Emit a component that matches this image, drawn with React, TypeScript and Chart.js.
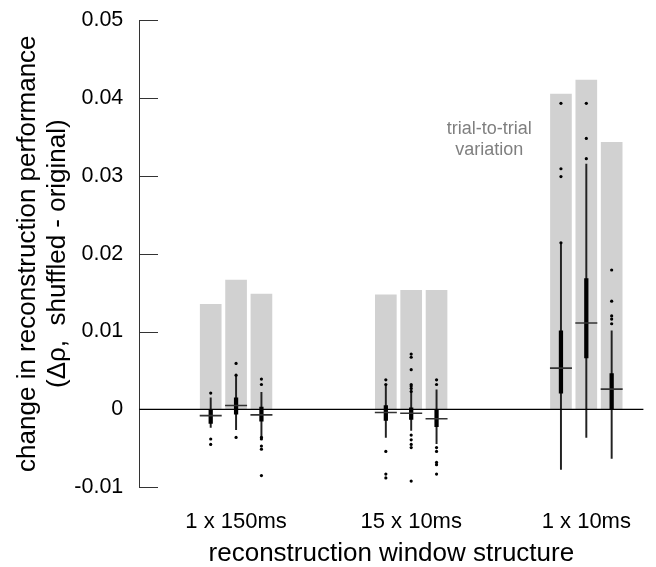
import React, { useEffect, useRef } from "react";
import { Chart, registerables } from "chart.js";

Chart.register(...registerables);

// ---------- data ----------
const GROUPS = ["1 x 150ms", "15 x 10ms", "1 x 10ms"];
const X_TITLE = "reconstruction window structure";
const Y_TITLE = ["change in reconstruction performance", "(Δρ,  shuffled - original)"];
const ANNOTATION = ["trial-to-trial", "variation"];

// trial-to-trial variation (gray bars), 3 per group
const TRIAL_VARIATION = [0.0135, 0.0166, 0.0148, 0.0147, 0.0153, 0.0153, 0.0405, 0.0423, 0.0343];

// box plot statistics, 3 per group
const WHISKER_LOW = [-0.0023, -0.0026, -0.0035, -0.0036, -0.0027, -0.0044, -0.0077, -0.0036, -0.0063];
const Q1 = [-0.0018, -0.0006, -0.0015, -0.0014, -0.0013, -0.0022, 0.0021, 0.0066, 0.0];
const MEDIAN = [-0.0008, 0.0005, -0.0007, -0.0004, -0.0005, -0.0012, 0.0053, 0.0111, 0.0026];
const Q3 = [0.0, 0.0015, 0.0003, 0.0005, 0.0002, -0.0001, 0.0101, 0.0168, 0.0046];
const WHISKER_HIGH = [0.0015, 0.0044, 0.0022, 0.0031, 0.0025, 0.0025, 0.0214, 0.0315, 0.0101];
const OUTLIERS: number[][] = [
  [0.0021, -0.0038, -0.0045],
  [0.0059, 0.0044, -0.0036],
  [0.0039, 0.0032, -0.0036, -0.0038, -0.0047, -0.0051, -0.0085],
  [0.0038, 0.0032, -0.0054, -0.0083, -0.0088],
  [0.0071, 0.0067, 0.0051, 0.0032, 0.003, 0.0027, 0.0023, -0.0033, -0.0039, -0.0045, -0.0049, -0.0092],
  [0.0038, 0.0032, -0.0049, -0.0054, -0.0068, -0.0071, -0.0083],
  [0.0393, 0.0309, 0.0299, 0.0214],
  [0.0393, 0.0348, 0.0322],
  [0.0179, 0.0139, 0.012, 0.0116, 0.011],
];

const Y_MIN = -0.01;
const Y_MAX = 0.05;
const Y_STEP = 0.01;

// ---------- layout ----------
const W = 656;
const H = 567;
const X_MIN = 0.4474;
const X_MAX = 3.326;
const SLOT = 0.1448;
const ANNOT_X = 2.446;
const ANNOT_Y = 0.0346;
const FONT = "'Liberation Sans', Arial, Helvetica, sans-serif";

const posOf = (i: number) => Math.floor(i / 3) + 1 + ((i % 3) - 1) * SLOT;

const decorations = {
  id: "decorations",
  afterDatasetsDraw(chart: any) {
    const { ctx, chartArea, scales } = chart;
    const x = scales.x;
    const y = scales.y;
    ctx.save();
    // inward tick marks
    ctx.strokeStyle = "#333";
    ctx.lineWidth = 1;
    y.ticks.forEach((t: any) => {
      const py = Math.round(y.getPixelForValue(t.value)) + 0.5;
      ctx.beginPath();
      ctx.moveTo(chartArea.left, py);
      ctx.lineTo(chartArea.left + 18.7, py);
      ctx.stroke();
    });
    // zero line
    const y0 = y.getPixelForValue(0);
    ctx.strokeStyle = "#000";
    ctx.lineWidth = 1.2;
    ctx.beginPath();
    ctx.moveTo(chartArea.left, y0);
    ctx.lineTo(chartArea.right, y0);
    ctx.stroke();
    // annotation text
    ctx.fillStyle = "#7f7f7f";
    ctx.font = `18px ${FONT}`;
    ctx.textAlign = "center";
    ctx.textBaseline = "middle";
    const ax = x.getPixelForValue(ANNOT_X);
    const ay = y.getPixelForValue(ANNOT_Y);
    const lh = 21;
    ANNOTATION.forEach((line, i) => {
      ctx.fillText(line, ax, ay + (i - (ANNOTATION.length - 1) / 2) * lh);
    });
    ctx.restore();
  },
};

export default function App() {
  const ref = useRef<HTMLCanvasElement>(null);

  useEffect(() => {
    const canvas = ref.current;
    if (!canvas) return;

    const barData = TRIAL_VARIATION.map((v, i) => ({ x: posOf(i), y: v }));
    const whiskerData = WHISKER_LOW.map((lo, i) => ({ x: posOf(i), y: [lo, WHISKER_HIGH[i]] }));
    const boxData = Q1.map((q, i) => ({ x: posOf(i), y: [q, Q3[i]] }));
    const medianData = MEDIAN.map((m, i) => ({ x: posOf(i), y: m }));
    const outlierData: { x: number; y: number }[] = [];
    OUTLIERS.forEach((list, i) => list.forEach((v) => outlierData.push({ x: posOf(i), y: v })));

    const chart = new Chart(canvas, {
      type: "bar",
      data: {
        datasets: [
          {
            type: "bar",
            data: barData as any,
            backgroundColor: "#d1d1d1",
            borderWidth: 0,
            barThickness: 21,
            grouped: false,
            order: 5,
          } as any,
          {
            type: "bar",
            data: whiskerData as any,
            backgroundColor: "#222",
            borderWidth: 0,
            barThickness: 1.3,
            grouped: false,
            order: 4,
          } as any,
          {
            type: "bar",
            data: boxData as any,
            backgroundColor: "#000",
            borderWidth: 0,
            barThickness: 3.6,
            grouped: false,
            order: 3,
          } as any,
          {
            type: "scatter",
            data: medianData,
            pointStyle: "line",
            pointRadius: 11,
            borderWidth: 1.6,
            borderColor: "#333",
            order: 2,
          } as any,
          {
            type: "scatter",
            data: outlierData,
            pointRadius: 1.6,
            pointBorderWidth: 0,
            backgroundColor: "#000",
            borderColor: "#000",
            order: 1,
          } as any,
        ],
      },
      options: {
        responsive: false,
        devicePixelRatio: 1,
        animation: false,
        events: [],
        layout: { padding: { top: 20, left: 0, right: 0, bottom: 0 } },
        plugins: { legend: { display: false }, tooltip: { enabled: false } },
        scales: {
          x: {
            type: "linear",
            min: X_MIN,
            max: X_MAX,
            offset: false,
            grid: { display: false, drawTicks: false },
            border: { display: false },
            afterBuildTicks: (s: any) => {
              s.ticks = GROUPS.map((_, i) => ({ value: i + 1 }));
            },
            afterFit: (s: any) => {
              s.height = 79.7;
              s.paddingLeft = 0;
              s.paddingRight = 0;
            },
            ticks: {
              autoSkip: false,
              maxRotation: 0,
              padding: 21,
              color: "#000",
              font: { family: FONT, size: 22 },
              callback: (v: any) => GROUPS[Math.round(Number(v)) - 1] ?? "",
            },
            title: {
              display: true,
              text: X_TITLE,
              color: "#000",
              font: { family: FONT, size: 26, lineHeight: 1 },
              padding: { top: 6, bottom: 0 },
            },
          },
          y: {
            type: "linear",
            min: Y_MIN,
            max: Y_MAX,
            grid: { display: true, color: "rgba(0,0,0,0)", drawTicks: false },
            border: { display: true, color: "#333", width: 1 },
            afterFit: (s: any) => {
              s.width = 139.3;
              s.paddingTop = 0;
              s.paddingBottom = 0;
            },
            ticks: {
              stepSize: Y_STEP,
              padding: 16,
              color: "#000",
              font: { family: FONT, size: 21.5 },
              callback: (v: any) => String(Number(Number(v).toFixed(2))),
            },
            title: {
              display: true,
              text: Y_TITLE,
              color: "#000",
              font: { family: FONT, size: 26, lineHeight: 1.15 },
              padding: { top: 12.7, bottom: 0 },
            },
          },
        },
      } as any,
      plugins: [decorations],
    });

    return () => chart.destroy();
  }, []);

  return (
    <div style={{ position: "absolute", left: 0, top: 0, width: W, height: H }}>
      <canvas ref={ref} width={W} height={H} style={{ display: "block", width: W, height: H }} />
    </div>
  );
}
